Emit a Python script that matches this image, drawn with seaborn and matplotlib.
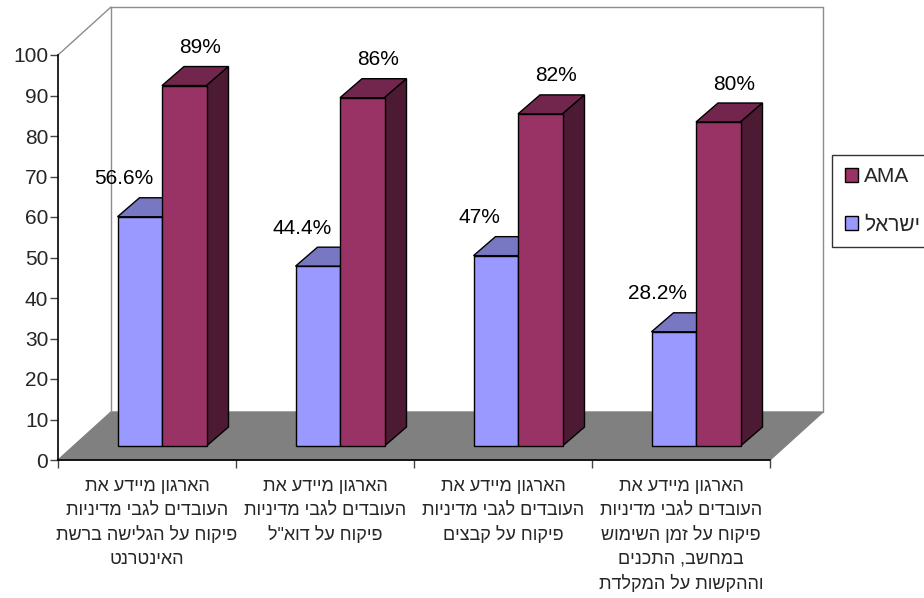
import numpy as np
import pandas as pd
import matplotlib
matplotlib.use("Agg")
import matplotlib.pyplot as plt
from matplotlib.patches import Polygon, Patch
from matplotlib.lines import Line2D
from matplotlib.transforms import IdentityTransform, offset_copy
import seaborn as sns

# ---- data -------------------------------------------------------------
categories = [
    "הארגון מיידע את\nהעובדים לגבי מדיניות\nפיקוח על הגלישה ברשת\nהאינטרנט",
    "הארגון מיידע את\nהעובדים לגבי מדיניות\nפיקוח על דוא\"ל",
    "הארגון מיידע את\nהעובדים לגבי מדיניות\nפיקוח על קבצים",
    "הארגון מיידע את\nהעובדים לגבי מדיניות\nפיקוח על זמן השימוש\nבמחשב, התכנים\nוההקשות על המקלדת",
]
israel = [56.6, 44.4, 47.0, 28.2]
ama = [89.0, 86.0, 82.0, 80.0]
series_names = ["ישראל", "AMA"]
yticks = [0, 10, 20, 30, 40, 50, 60, 70, 80, 90, 100]

front_colors = {"ישראל": "#9999FF", "AMA": "#993366"}
top_colors = {"ישראל": "#7777C2", "AMA": "#73264D"}
side_colors = {"ישראל": "#5A5A99", "AMA": "#4D1A33"}


def rtl(text):
    """Visual (left-to-right) order for right-to-left Hebrew lines."""
    return "\n".join(line[::-1] for line in text.split("\n"))


df = pd.DataFrame({
    "category": list(range(len(categories))) * 2,
    "series": [series_names[0]] * len(categories) + [series_names[1]] * len(categories),
    "value": israel + ama,
})

# ---- figure -----------------------------------------------------------
sns.set_style("white")
plt.rcParams["font.family"] = ["Liberation Sans", "DejaVu Sans"]
FS = 15
FS_HEB = 13

W, H = 924, 598
fig = plt.figure(figsize=(W / 100, H / 100), dpi=100)
ax = fig.add_axes([58 / W, 138 / H, 712 / W, 405 / H])
ax.patch.set_visible(False)

sns.barplot(data=df, x="category", y="value", hue="series",
            hue_order=series_names, palette=front_colors, width=0.5,
            dodge=True, edgecolor="black", linewidth=1.0,
            saturation=1.0, ax=ax, legend=False, native_scale=True)

ax.set_xlim(-0.5, len(categories) - 0.5)
ax.set_ylim(0, 100)

# 3-D box geometry (pixel offsets)
DEPTH = np.array([53.0, 48.0])     # full depth of the floor
BAR_SHIFT = np.array([15.0, 14.0])  # bars stand inside the floor
BAR_DEPTH = np.array([22.0, 19.0])  # depth of each bar

T = ax.transData
flb = T.transform((-0.5, 0))
flt = T.transform((-0.5, 100))
frb = T.transform((len(categories) - 0.5, 0))
frt = T.transform((len(categories) - 0.5, 100))
ident = IdentityTransform()

# floor
floor = Polygon([flb, frb, frb + DEPTH, flb + DEPTH], closed=True,
                facecolor="#808080", edgecolor="#808080", lw=1,
                transform=ident, zorder=0.5, clip_on=False)
ax.add_patch(floor)
# back wall / side wall edges
wall_col = "#8c8c8c"
for p, q in [(flb + DEPTH, flt + DEPTH), (flt + DEPTH, frt + DEPTH),
             (frt + DEPTH, frb + DEPTH), (flt, flt + DEPTH)]:
    ax.add_line(Line2D([p[0], q[0]], [p[1], q[1]], color=wall_col, lw=1,
                       transform=ident, zorder=0.6, clip_on=False))

# shift the front faces into the floor and add tops/sides
bar_tr = offset_copy(T, fig=fig, x=BAR_SHIFT[0], y=BAR_SHIFT[1], units="dots")
bars = [p for p in ax.patches if p is not floor]
n = len(categories)
for i, patch in enumerate(bars):
    name = series_names[i // n]
    patch.set_transform(bar_tr)
    patch.set_zorder(3)
    patch.set_clip_on(False)
    x0, w, h = patch.get_x(), patch.get_width(), patch.get_height()
    tl = T.transform((x0, h)) + BAR_SHIFT
    tr = T.transform((x0 + w, h)) + BAR_SHIFT
    br = T.transform((x0 + w, 0)) + BAR_SHIFT
    top = Polygon([tl, tr, tr + BAR_DEPTH, tl + BAR_DEPTH], closed=True,
                  facecolor=top_colors[name], edgecolor="black", lw=1.0,
                  transform=ident, zorder=2, clip_on=False)
    side = Polygon([br, tr, tr + BAR_DEPTH, br + BAR_DEPTH], closed=True,
                   facecolor=side_colors[name], edgecolor="black", lw=1.0,
                   transform=ident, zorder=2, clip_on=False)
    ax.add_patch(top)
    ax.add_patch(side)
    # value label above the bar
    cx = (tl[0] + tr[0]) / 2 + (-16 if name == series_names[0] else 16)
    cy = tl[1] + BAR_DEPTH[1] + 19
    ax.text(cx, cy, f"{h:g}%", transform=ident, ha="center", va="center",
            fontsize=FS, color="black", zorder=5, clip_on=False)

# axes styling
for s in ["top", "right"]:
    ax.spines[s].set_visible(False)
for s in ["left", "bottom"]:
    ax.spines[s].set_color("black")
    ax.spines[s].set_linewidth(1.2)
    ax.spines[s].set_zorder(4)

ax.set_yticks(yticks)
ax.set_yticklabels([str(t) for t in yticks], fontsize=FS)
ax.tick_params(axis="y", which="major", direction="out", length=6, width=1,
               color="#444444", pad=1, left=True)

ax.set_xticks(np.arange(-0.5, n, 1.0))
ax.set_xticklabels([])
ax.set_xticks(np.arange(n), minor=True)
ax.set_xticklabels([rtl(c) for c in categories], minor=True, fontsize=FS_HEB,
                   linespacing=1.52)
ax.tick_params(axis="x", which="major", direction="out", length=6, width=1,
               color="#444444", bottom=True)
ax.tick_params(axis="x", which="minor", length=0, pad=13)
ax.set_xlabel("")
ax.set_ylabel("")

# legend (AMA listed first)
handles = [Patch(facecolor=front_colors[s], edgecolor="black", lw=1)
           for s in reversed(series_names)]
labels = [rtl(s) for s in reversed(series_names)]
leg = fig.legend(handles, labels, loc="upper left",
                 bbox_to_anchor=(832 / W, 1 - 155 / H), fontsize=FS,
                 frameon=True, fancybox=False, edgecolor="black",
                 handlelength=0.65, handleheight=0.65, handletextpad=0.3,
                 labelspacing=1.4, borderpad=0.6, borderaxespad=0)
leg.get_frame().set_linewidth(1.0)

fig.savefig("out.png", dpi=100)
